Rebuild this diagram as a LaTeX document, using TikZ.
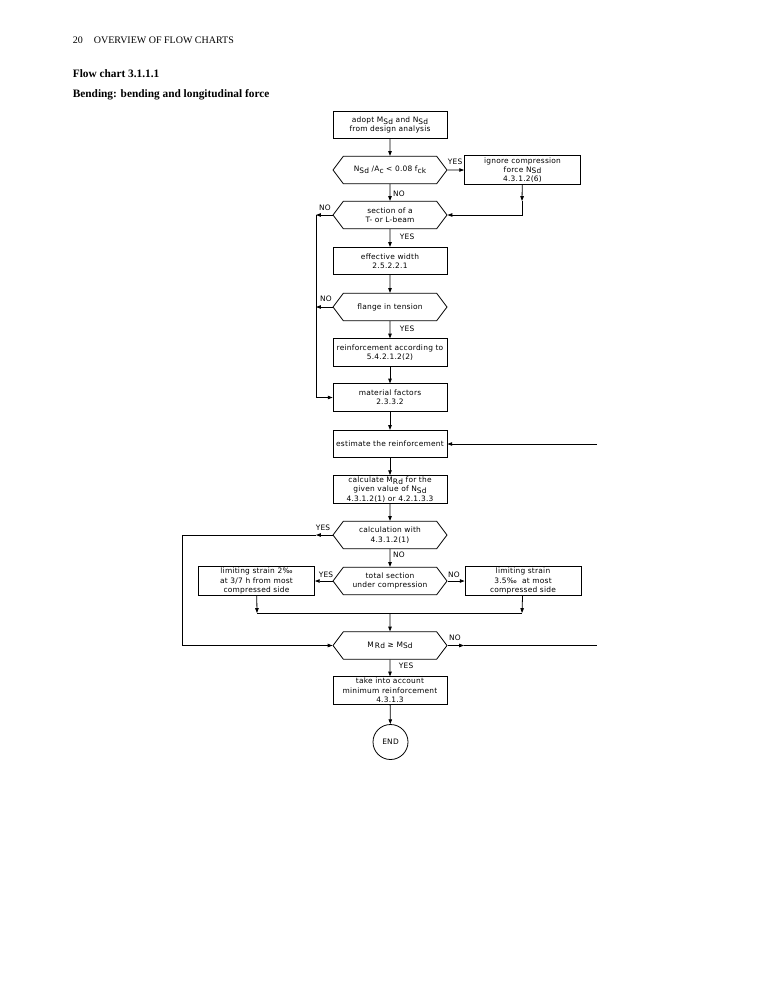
\documentclass[tikz,border=0pt]{standalone}
\usepackage{fontspec}
\setmainfont{Liberation Serif}
\newfontfamily\cadfont[LetterSpace=3]{DejaVu Sans}
\usetikzlibrary{shapes.symbols,arrows.meta}
\newcommand{\cadsize}{\cadfont\fontsize{5.6}{7}\selectfont}
\newcommand{\low}[1]{\raisebox{-0.4ex}{#1}}

\begin{document}
\begin{tikzpicture}[
        x=0.75pt, y=-0.75pt,
        line width=0.6pt,
        block/.style={
            draw,
            minimum width=85.5pt,
            minimum height=20.5pt,
            inner sep=1pt,
            align=center,
            font=\cadsize
        },
        decision/.style={
            block,
            shape=signal,
            signal to=west and east,
            signal pointer angle=106
        },
        sidebox/.style={
            block,
            minimum width=87pt
        },
        answer/.style={font=\cadsize, inner sep=0pt},
        flow/.style={-{Triangle[length=3.6pt,width=2.6pt]}}
    ]
    \useasboundingbox (0,0) rectangle (772,1000);

    \node[anchor=base west, font=\fontsize{7.5}{9}\selectfont] (pagehead) at (68,43) {20\hspace{1.1em}OVERVIEW OF FLOW CHARTS};
    \node[anchor=base west, font=\fontsize{8.5}{10}\selectfont\bfseries] (charttitle) at (68,77) {Flow chart 3.1.1.1};
    \node[anchor=base west, font=\fontsize{8.5}{10}\selectfont\bfseries] (chartsub) at (68,97.5) {Bending: bending and longitudinal force};

    \node[block] (adopt) at (390,125) {adopt M\low{Sd} and N\low{Sd}\\from design analysis};
    \node[decision] (ratio) at (390,170) {N\low{Sd} /A\low{c} < 0.08 f\low{ck}};
    \node[sidebox, minimum height=21.5pt] (ignore) at (522.5,170) {ignore compression\\force N\low{Sd}\\4.3.1.2(6)};
    \node[decision] (tbeam) at (390,215) {section of a\\T- or L-beam};
    \node[block] (effwidth) at (390,261) {effective width\\2.5.2.2.1};
    \node[decision] (flange) at (390,307) {flange in tension};
    \node[block] (flangereinf) at (390,352.5) {reinforcement according to\\5.4.2.1.2(2)};
    \node[block] (material) at (390,397.5) {material factors\\2.3.3.2};
    \node[block] (estimate) at (390,444) {estimate the reinforcement};
    \node[block] (resist) at (390,489.5) {calculate M\low{Rd} for the\\given value of N\low{Sd}\\4.3.1.2(1) or 4.2.1.3.3};
    \node[decision] (method) at (390,535) {calculation with\\4.3.1.2(1)};
    \node[decision] (compr) at (390,581) {total section\\under compression};
    \node[sidebox] (strainleft) at (256.5,581) {limiting strain 2‰\\at 3/7 h from most\\compressed side};
    \node[sidebox] (strainright) at (523,581) {limiting strain\\3.5‰\ \ at most\\compressed side};
    \node[decision] (moment) at (390,645.5) {M\,\low{Rd} ≥ M\low{Sd}};
    \node[block] (minreinf) at (390,690.5) {take into account\\minimum reinforcement\\4.3.1.3};
    \node[draw, circle, minimum size=26.25pt, inner sep=0pt, font=\cadsize] (stop) at (390.5,742) {END};

    \coordinate (tbeamno) at (316,215);
    \coordinate (flangeno) at (316,307);
    \coordinate (ignoremid) at (522,201);
    \coordinate (methodyes) at (316,535);
    \coordinate (methodleft) at (182,535);
    \coordinate (mergeleft) at (257,613);
    \coordinate (mergeright) at (522,613);
    \coordinate (mergemid) at (390,613);
    \coordinate (momentno) at (464,645.5);
    \coordinate (momentout) at (597,645.5);
    \coordinate (estimatein) at (597,444);

    \draw[flow] (adopt) -- (ratio);
    \draw[flow] (ratio) -- (ignore);
    \draw[flow] (ignore) -- (ignoremid);
    \draw[flow] (ignoremid) |- (tbeam.east);
    \draw[flow] (ratio) -- (tbeam);
    \draw[flow] (tbeam.west) -- (tbeamno);
    \draw[flow] (tbeamno) |- (material.west);
    \draw[flow] (tbeam) -- (effwidth);
    \draw[flow] (effwidth) -- (flange);
    \draw[flow] (flange.west) -- (flangeno);
    \draw[flow] (flange) -- (flangereinf);
    \draw[flow] (flangereinf) -- (material);
    \draw[flow] (material) -- (estimate);
    \draw[flow] (estimatein) -- (estimate.east);
    \draw[flow] (estimate) -- (resist);
    \draw[flow] (resist) -- (method);
    \draw[flow] (method.west) -- (methodyes);
    \draw[flow] (methodyes) -- (methodleft) |- (moment.west);
    \draw[flow] (method) -- (compr);
    \draw[flow] (compr.west) -- (strainleft);
    \draw[flow] (compr.east) -- (strainright);
    \draw[flow] (strainleft) -- (mergeleft);
    \draw[flow] (strainright) -- (mergeright);
    \draw (mergeleft) -- (mergeright);
    \draw[flow] (mergemid) -- (moment);
    \draw[flow] (moment.east) -- (momentno);
    \draw (momentno) -- (momentout);
    \draw[flow] (moment) -- (minreinf);
    \draw[flow] (minreinf) -- (stop);

    \node[answer] (ratioyes) at (455,162) {YES};
    \node[answer] (rationo) at (399,194) {NO};
    \node[answer] (tbeamnolbl) at (325,208) {NO};
    \node[answer] (tbeamyes) at (407,237) {YES};
    \node[answer] (flangenolbl) at (326,299) {NO};
    \node[answer] (flangeyes) at (407,329) {YES};
    \node[answer] (methodyeslbl) at (323,528) {YES};
    \node[answer] (methodno) at (399,555) {NO};
    \node[answer] (compryes) at (326,575) {YES};
    \node[answer] (comprno) at (454,575) {NO};
    \node[answer] (momentnolbl) at (455,638) {NO};
    \node[answer] (momentyes) at (406,666) {YES};
\end{tikzpicture}
\end{document}
